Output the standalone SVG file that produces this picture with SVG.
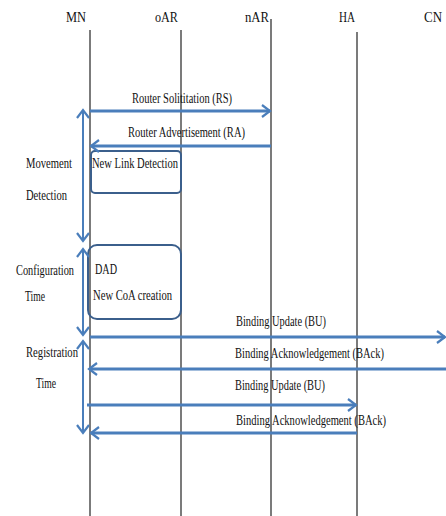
<svg xmlns="http://www.w3.org/2000/svg" width="446" height="516" viewBox="0 0 446 516">
<style>
.life{stroke:#5a5a5a;stroke-width:1.6;fill:none}
.msg{stroke:#4a7ebb;stroke-width:3;fill:none}
.span{stroke:#4a7ebb;stroke-width:2;fill:none}
.box{stroke:#3b5f8c;stroke-width:2;fill:none}
text{font-family:"Liberation Serif","Times New Roman",serif;font-size:14.5px;fill:#111}
.hd{font-size:15.5px}
</style>
<defs>
<marker id="ah" markerUnits="userSpaceOnUse" markerWidth="12" markerHeight="14" refX="9" refY="7" orient="auto-start-reverse">
<path d="M1,1 L9,7 L1,13" fill="none" stroke="#4a7ebb" stroke-width="2.2"/>
</marker>
</defs>
<rect width="446" height="516" fill="#fff"/>
<g id="MN"><line class="life" x1="90" y1="30" x2="90" y2="516"/><text class="hd" x="66" y="22" textLength="20" lengthAdjust="spacingAndGlyphs">MN</text></g>
<g id="oAR"><line class="life" x1="181" y1="30" x2="181" y2="516"/><text class="hd" x="155" y="22" textLength="23" lengthAdjust="spacingAndGlyphs">oAR</text></g>
<g id="nAR"><line class="life" x1="271" y1="19" x2="271" y2="516"/><text class="hd" x="245" y="22" textLength="24" lengthAdjust="spacingAndGlyphs">nAR</text></g>
<g id="HA"><line class="life" x1="357" y1="32" x2="357" y2="516"/><text class="hd" x="339" y="22" textLength="16" lengthAdjust="spacingAndGlyphs">HA</text></g>
<g id="CN"><text class="hd" x="424" y="22" textLength="18" lengthAdjust="spacingAndGlyphs">CN</text></g>
<g id="newlink"><rect class="box" x="91" y="151" width="90" height="42" rx="4"/><text x="92" y="168" textLength="86" lengthAdjust="spacingAndGlyphs">New Link Detection</text></g>
<g id="dad"><rect class="box" x="88" y="245" width="93" height="74" rx="9"/><text x="95" y="274" textLength="22" lengthAdjust="spacingAndGlyphs">DAD</text><text x="93" y="300" textLength="79" lengthAdjust="spacingAndGlyphs">New CoA creation</text></g>
<g id="phases">
<text x="26" y="168" textLength="46" lengthAdjust="spacingAndGlyphs">Movement</text>
<text x="26" y="200" textLength="41" lengthAdjust="spacingAndGlyphs">Detection</text>
<text x="16" y="275" textLength="58" lengthAdjust="spacingAndGlyphs">Configuration</text>
<text x="25" y="301" textLength="20" lengthAdjust="spacingAndGlyphs">Time</text>
<text x="26" y="357" textLength="52" lengthAdjust="spacingAndGlyphs">Registration</text>
<text x="36" y="388" textLength="20" lengthAdjust="spacingAndGlyphs">Time</text>
</g>
<g id="connectors">
<line class="span" x1="83" y1="110" x2="83" y2="241" marker-start="url(#ah)" marker-end="url(#ah)"/>
<line class="span" x1="83" y1="249" x2="83" y2="335" marker-start="url(#ah)" marker-end="url(#ah)"/>
<line class="span" x1="83" y1="341" x2="83" y2="433" marker-start="url(#ah)" marker-end="url(#ah)"/>
<line class="msg" x1="90" y1="111" x2="270" y2="111" marker-end="url(#ah)"/>
<line class="msg" x1="271" y1="146" x2="91" y2="146" marker-end="url(#ah)"/>
<line class="msg" x1="90" y1="337" x2="445" y2="337" marker-end="url(#ah)"/>
<line class="msg" x1="446" y1="369" x2="89" y2="369" marker-end="url(#ah)"/>
<line class="msg" x1="87" y1="405" x2="356" y2="405" marker-end="url(#ah)"/>
<line class="msg" x1="357" y1="433" x2="91" y2="433" marker-end="url(#ah)"/>
<text x="132" y="103" textLength="100" lengthAdjust="spacingAndGlyphs">Router Solititation (RS)</text>
<text x="128" y="137" textLength="117" lengthAdjust="spacingAndGlyphs">Router Advertisement (RA)</text>
<text x="236" y="326" textLength="90" lengthAdjust="spacingAndGlyphs">Binding Update (BU)</text>
<text x="235" y="358" textLength="149" lengthAdjust="spacingAndGlyphs">Binding Acknowledgement (BAck)</text>
<text x="235" y="390" textLength="90" lengthAdjust="spacingAndGlyphs">Binding Update (BU)</text>
<text x="236" y="425" textLength="150" lengthAdjust="spacingAndGlyphs">Binding Acknowledgement (BAck)</text>
</g>
</svg>
